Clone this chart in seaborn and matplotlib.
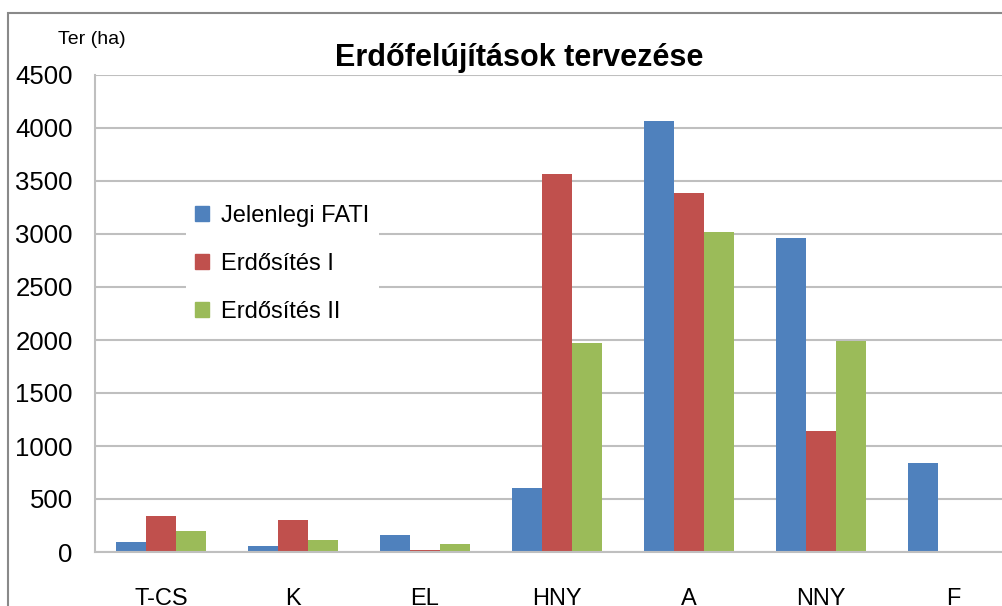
import numpy as np
import pandas as pd
import matplotlib
matplotlib.use("Agg")
import matplotlib.pyplot as plt
import seaborn as sns
from matplotlib.patches import Rectangle

# ── data ────────────────────────────────────────────────────────────────────
categories = ["T-CS", "K", "EL", "HNY", "A", "NNY", "F"]
series     = ["Jelenlegi FATI", "Erdősítés I", "Erdősítés II"]
fati       = [95, 60, 160, 600, 4065, 2960, 840]
erd_1      = [340, 300, 18, 3565, 3385, 1140, 0]
erd_2      = [200, 115, 80, 1970, 3020, 1990, 0]
colors     = ["#4F81BD", "#C0504D", "#9BBB59"]

df = pd.DataFrame({
    "kat": categories * 3,
    "sor": np.repeat(series, len(categories)),
    "ter": fati + erd_1 + erd_2,
})

sns.set_theme(style="white")
plt.rcParams["font.family"] = ["Liberation Sans", "DejaVu Sans"]
plt.rcParams["text.color"] = "black"
plt.rcParams["xtick.color"] = "black"
plt.rcParams["ytick.color"] = "black"

fig = plt.figure(figsize=(10.03, 6.06), dpi=100)
ax = fig.add_axes([95/1003, 54/606, 924/1003, 477/606])

sns.barplot(data=df, x="kat", y="ter", hue="sor", order=categories,
            hue_order=series, palette=colors, width=0.68, gap=0,
            saturation=1, linewidth=0, ax=ax, legend=False)

ax.set_ylim(0, 4500)
ax.set_yticks(np.arange(0, 4501, 500))
ax.set_xlim(-0.5, len(categories) - 0.5)
ax.yaxis.grid(True, color="#BFBFBF", lw=1.5)
ax.set_axisbelow(True)
ax.set_xlabel(""); ax.set_ylabel("")
for s in ["top", "right"]:
    ax.spines[s].set_visible(False)
for s in ["left", "bottom"]:
    ax.spines[s].set_color("#BFBFBF"); ax.spines[s].set_linewidth(1.5)
ax.tick_params(axis="y", length=0, pad=16, labelsize=18.5)
ax.tick_params(axis="x", length=0, pad=26, labelsize=17)

# legend
handles = [Rectangle((0, 0), 1, 1, color=c) for c in colors]
leg = fig.legend(handles, series, loc="upper left",
                 bbox_to_anchor=(174/1003, 1 - 184/606), fontsize=17,
                 frameon=True, facecolor="white", edgecolor="none",
                 framealpha=1, fancybox=False, handlelength=0.6,
                 handleheight=0.6, handletextpad=0.5, labelspacing=1.1,
                 borderpad=0.4)

fig.text(519/1003, 1 - 58/606, "Erdőfelújítások tervezése", ha="center",
         va="center", fontsize=22, fontweight="bold")
fig.text(92/1003, 1 - 40/606, "Ter (ha)", ha="center", va="center",
         fontsize=14)

# outer chart frame
fig.patches.append(Rectangle((8/1003, -0.1), 1.1, 1 - 13/606 + 0.1,
                             transform=fig.transFigure, fill=False,
                             edgecolor="#898989", lw=1.5))

fig.savefig("out.png", dpi=100)
